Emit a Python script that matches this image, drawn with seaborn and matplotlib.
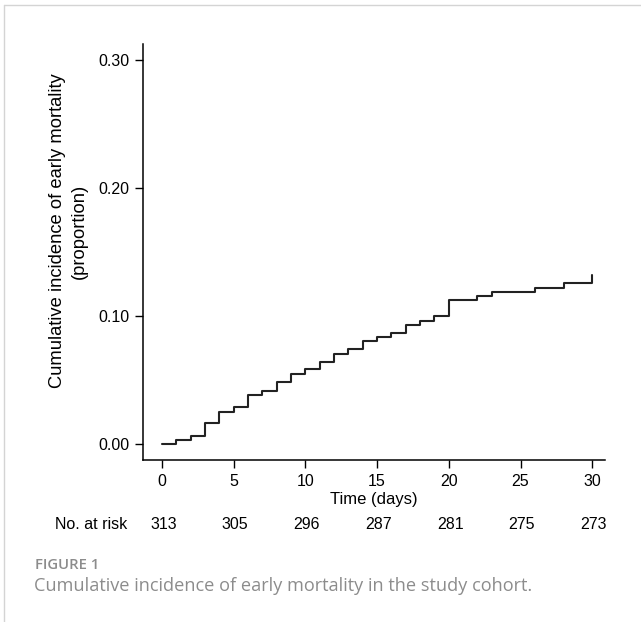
import numpy as np
import pandas as pd
import seaborn as sns
import matplotlib.pyplot as plt
from matplotlib.lines import Line2D

# cumulative incidence step function
days = [0, 1, 2, 3, 4, 5, 6, 7, 8, 9, 10, 11, 12, 13, 14, 15, 16, 17, 18, 19, 20,
        22, 23, 26, 28, 30]
incidence = [0.0, 0.003, 0.0065, 0.0167, 0.0253, 0.0289, 0.0385, 0.0411, 0.0482,
             0.0545, 0.0584, 0.0643, 0.0705, 0.0742, 0.0805, 0.0836, 0.0865, 0.0927,
             0.0963, 0.0998, 0.1123, 0.1156, 0.1188, 0.1221, 0.1255, 0.132]

risk_days = [0, 5, 10, 15, 20, 25, 30]
at_risk = [313, 305, 296, 287, 281, 275, 273]
y_ticks = [0.0, 0.1, 0.2, 0.3]

sns.set_theme(style="ticks")
plt.rcParams['font.family'] = ['Liberation Sans', 'DejaVu Sans']
plt.rcParams['text.color'] = 'black'
plt.rcParams['axes.labelcolor'] = 'black'
plt.rcParams['xtick.color'] = 'black'
plt.rcParams['ytick.color'] = 'black'

df = pd.DataFrame({"day": days, "inc": incidence})

fig = plt.figure(figsize=(6.41, 6.22), dpi=100)
ax = fig.add_axes([0.223, 0.2605, 0.721, 0.6685])

sns.lineplot(data=df, x="day", y="inc", drawstyle="steps-post", color="#222222",
             linewidth=1.5, estimator=None, sort=False, ax=ax)

ax.set_xlim(-1.33, 30.9)
ax.set_ylim(-0.0125, 0.3125)
ax.set_xticks(risk_days)
ax.set_xticklabels([str(d) for d in risk_days], fontsize=11.5)
ax.set_yticks(y_ticks)
ax.set_yticklabels(["%.2f" % v for v in y_ticks], fontsize=11.5)
ax.tick_params(direction="out", length=6, width=1, color="black", pad=4)
for s in ["top", "right"]:
    ax.spines[s].set_visible(False)
for s in ["left", "bottom"]:
    ax.spines[s].set_linewidth(1.1)
    ax.spines[s].set_color("black")

ax.set_xlabel("Time (days)", fontsize=12, labelpad=2)
ax.set_ylabel("")
fig.text(68.5 / 641, 1 - 231 / 622,
         "Cumulative incidence of early mortality\n(proportion)",
         rotation=90, ha="center", va="center", fontsize=13.2, linespacing=1.35,
         multialignment="center")

# number at risk table
trans = ax.get_xaxis_transform()
for d, n in zip(risk_days, at_risk):
    ax.text(d + 0.1, -0.155, str(n), transform=trans, ha="center", va="center", fontsize=11.5)
ax.text(-2.4, -0.155, "No. at risk", transform=trans, ha="right", va="center", fontsize=11.5)

# caption
fig.text(35 / 641, 1 - 569 / 622, "FIGURE 1", fontsize=10.7, color="#8c8c8c",
         fontweight="semibold", family=["Open Sans", "DejaVu Sans"], va="baseline")
fig.text(34 / 641, 1 - 591 / 622,
         "Cumulative incidence of early mortality in the study cohort.",
         fontsize=13.1, color="#8c8c8c", family=["Open Sans", "DejaVu Sans"], va="baseline")

# thin frame lines at the top and left of the panel
fig.add_artist(Line2D([4 / 641, 4 / 641], [0, 1 - 5 / 622], transform=fig.transFigure,
                      color="#d4d4d4", linewidth=1))
fig.add_artist(Line2D([4 / 641, 1], [1 - 5 / 622, 1 - 5 / 622], transform=fig.transFigure,
                      color="#d4d4d4", linewidth=1))

fig.savefig("out.png", dpi=100, facecolor="white")
